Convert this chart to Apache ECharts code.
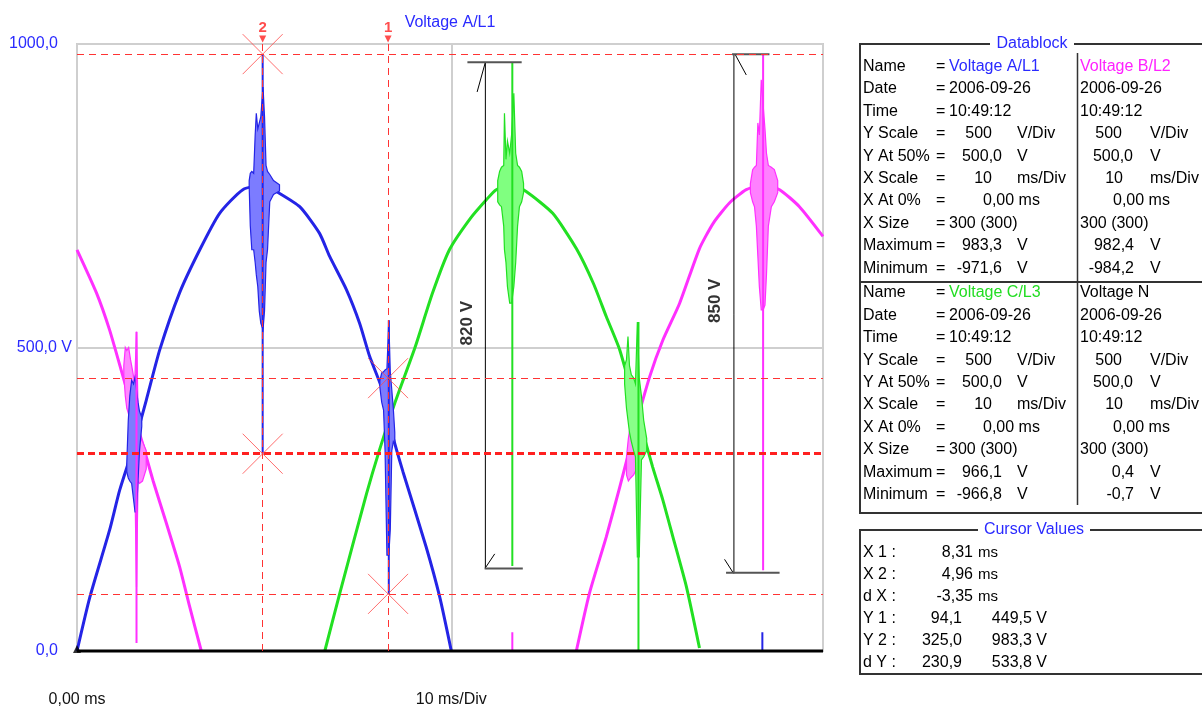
<!DOCTYPE html>
<html><head><meta charset="utf-8">
<script src="https://cdn.jsdelivr.net/npm/echarts@6/dist/echarts.min.js"></script>
<style>html,body{margin:0;padding:0;background:#fff}#c{width:1202px;height:711px}</style>
</head><body><div id="c"></div>
<script>
const FAM = '"Liberation Sans", Arial, sans-serif';
const X_MAX = 19.93;

// ---- waveform values: [time ms, volts] ----
const voltageA = [[0,0],[0.34,88],[0.87,199],[1.14,265],[1.5,335],[1.85,413],[2.21,496],[2.74,590],[3.28,661],[3.81,721],[4.43,760],[5.0,768],[5.33,757],[5.95,732],[6.48,688],[6.75,650],[7.2,595],[7.55,540],[7.82,485],[8.13,435],[8.44,353],[8.71,295],[9.33,171],[9.69,89],[10.0,0]];
const voltageC = [[6.62,0],[7.02,95],[7.73,258],[8.08,331],[8.5,410],[9.03,500],[9.5,590],[9.95,661],[10.5,712],[10.93,743],[11.2,760],[11.6,768],[12.0,757],[12.71,721],[13.34,663],[13.8,605],[14.14,551],[14.5,496],[15.0,386],[15.38,303],[15.65,249],[15.92,188],[16.28,106],[16.63,5]];
const voltageB1 = [[0,661],[0.52,590],[0.87,529],[1.23,452],[1.5,394],[1.76,340],[2.03,281],[2.39,210],[2.74,139],[3.01,73],[3.32,0]];
const voltageB2 = [[13.34,0],[13.69,95],[14.14,188],[14.5,270],[14.9,365],[15.3,452],[15.65,512],[16.1,573],[16.63,663],[17.0,705],[17.43,738],[17.88,760],[18.35,768],[18.77,760],[19.3,732],[19.93,683]];
const voltageN = [[0,0],[5,0],[10,0],[15,0],[19.93,0]];

// transient bursts: [time, upper, lower]
const burstA_peak = [[4.60,775,765],[4.63,787,700],[4.67,790,661],[4.72,787,661],[4.76,850,640],[4.79,886,620],[4.83,860,600],[4.87,870,560],[4.91,880,540],[4.97,929,529],[5.01,880,560],[5.05,800,640],[5.09,790,661],[5.15,785,740],[5.25,775,752],[5.41,768,758]];
const burstA_x1 = [[1.33,310,295],[1.37,380,285],[1.41,420,280],[1.46,446,276],[1.51,440,250],[1.55,451,229],[1.59,430,229],[1.63,410,280],[1.67,395,330],[1.73,385,370]];
const burstA_x2 = [[8.09,445,435],[8.14,458,410],[8.19,460,397],[8.23,463,330],[8.28,465,158],[8.33,545,158],[8.37,460,200],[8.41,430,330],[8.45,400,345],[8.49,360,340]];
const burstB_x1 = [[1.25,470,455],[1.29,500,420],[1.33,495,400],[1.38,500,390],[1.43,480,380],[1.49,460,340],[1.54,440,300],[1.59,526,105],[1.63,400,280],[1.67,352,276],[1.75,345,280],[1.85,330,300]];
const burstB_x3 = [[14.68,320,290],[14.73,350,280],[14.79,375,285],[14.87,370,290],[14.95,365,300],[15.02,370,330],[15.10,400,380]];
const burstB_peak = [[17.99,770,755],[18.05,793,740],[18.10,797,732],[18.15,800,700],[18.19,870,650],[18.23,850,600],[18.28,941,562],[18.33,900,562],[18.38,860,570],[18.42,820,620],[18.47,800,700],[18.55,797,732],[18.63,793,740],[18.72,775,755]];
const burstC_peak = [[11.24,775,740],[11.29,790,735],[11.34,797,732],[11.40,800,700],[11.42,886,661],[11.46,810,640],[11.50,840,600],[11.56,820,573],[11.61,850,573],[11.67,919,600],[11.72,820,640],[11.77,800,700],[11.82,797,732],[11.88,790,740],[11.93,770,755]];
const burstC_x3 = [[14.63,470,440],[14.68,480,400],[14.72,518,380],[14.76,470,360],[14.81,455,345],[14.87,450,330],[14.92,440,320],[14.97,542,155],[15.02,450,155],[15.08,420,315],[15.14,380,320],[15.22,350,330]];

// thin spikes: [[t, from], [t, to]]
const spikesA = [[[4.96,983],[4.96,325]],[[8.33,545],[8.33,94]],[[18.31,0],[18.31,31]]];
const spikesB = [[[1.59,526],[1.59,13]],[[18.33,982],[18.33,133]],[[11.63,0],[11.63,31]]];
const spikesC = [[[11.63,969],[11.63,140]],[[15.0,542],[15.0,0]]];

// cursors
const cursorX = [8.31, 4.96];
const cursorNames = ['1', '2'];
const cursorLevels = [94.1, 449.5, 325.0, 983.3];
const cursorPoints = [[8.31,449.5],[8.31,94.1],[4.96,983.3],[4.96,325.0]];

// measurement annotations
const measureLines = [[[10.91,970],[10.91,136]],[[17.55,982],[17.55,128]],[[10.69,921],[10.91,970]],[[10.91,137],[11.16,160]],[[17.59,982],[17.88,949]],[[17.30,151],[17.54,128]]];
const measureCaps = [[[10.43,970],[11.88,970]],[[10.89,136],[11.91,136]],[[17.50,983],[18.50,983]],[[17.34,129],[18.77,129]]];
const measureLabels = [[10.42,540,'820 V'],[17.05,577,'850 V']];

// panel texts
const blockLabels = ['Name','Date','Time','Y Scale','Y At 50%','X Scale','X At 0%','X Size','Maximum','Minimum'];
const chanA = ['Voltage A/L1','2006-09-26','10:49:12','500','500,0','10','0,00 ms','300 (300)','983,3','-971,6'];
const chanB = ['Voltage B/L2','2006-09-26','10:49:12','500','500,0','10','0,00 ms','300 (300)','982,4','-984,2'];
const chanC = ['Voltage C/L3','2006-09-26','10:49:12','500','500,0','10','0,00 ms','300 (300)','966,1','-966,8'];
const chanN = ['Voltage N','2006-09-26','10:49:12','500','500,0','10','0,00 ms','300 (300)','0,4','-0,7'];
const blockUnits = [null,null,null,'V/Div','V','ms/Div',null,null,'V','V'];
const cursorLabels = ['X 1 :','X 2 :','d X :','Y 1 :','Y 2 :','d Y :'];
const cursorMs = ['8,31','4,96','-3,35'];
const cursorYVals = [['94,1','449,5 V'],['325,0','983,3 V'],['230,9','533,8 V']];

const BLUE = '#2424e6', GREEN = '#22e022', MAG = '#ff30ff';
const TXT_BLUE = '#2a2aff', TXT_GREEN = '#22dd22', TXT_MAG = '#ff22ff';

const bursts = [
  {pts: burstB_x1, fill: '#ff88ff', stroke: MAG},
  {pts: burstB_x3, fill: '#ff88ff', stroke: MAG},
  {pts: burstB_peak, fill: '#ff80ff', stroke: MAG},
  {pts: burstC_x3, fill: '#88ff88', stroke: GREEN},
  {pts: burstC_peak, fill: '#80ff80', stroke: GREEN},
  {pts: burstA_x1, fill: '#7c7cff', stroke: BLUE},
  {pts: burstA_peak, fill: '#7c7cff', stroke: BLUE},
  {pts: burstA_x2, fill: '#7c7cff', stroke: BLUE}
];

function segs(list) {
  const out = [];
  list.forEach((s, i) => { if (i) out.push([s[0][0], '-']); s.forEach(p => out.push(p)); });
  return out;
}

function T(text, x, y, o) {
  return {type: 'text', x: x, y: y, z: 20, style: Object.assign({text: text, font: '16px ' + FAM, fill: '#000', textAlign: 'left', textVerticalAlign: 'middle'}, o || {})};
}

const graphics = [];
graphics.push(T('Voltage A/L1', 450, 23, {fill: TXT_BLUE, textAlign: 'center'}));
graphics.push({type: 'rect', z: 15, shape: {x: 860, y: 44, width: 370, height: 469}, style: {fill: 'none', stroke: '#333', lineWidth: 2}});
graphics.push({type: 'line', z: 15, shape: {x1: 860, y1: 282, x2: 1202, y2: 282}, style: {stroke: '#333', lineWidth: 2}});
graphics.push({type: 'line', z: 15, shape: {x1: 1077.5, y1: 53, x2: 1077.5, y2: 505}, style: {stroke: '#333', lineWidth: 1.5}});
graphics.push({type: 'rect', z: 16, shape: {x: 990, y: 35, width: 84, height: 18}, style: {fill: '#fff'}});
graphics.push(T('Datablock', 1032, 44, {fill: TXT_BLUE, textAlign: 'center'}));
graphics.push({type: 'rect', z: 15, shape: {x: 860, y: 530, width: 370, height: 144}, style: {fill: 'none', stroke: '#333', lineWidth: 2}});
graphics.push({type: 'rect', z: 16, shape: {x: 978, y: 521, width: 112, height: 18}, style: {fill: '#fff'}});
graphics.push(T('Cursor Values', 1034, 530, {fill: TXT_BLUE, textAlign: 'center'}));

function addBlock(y0, ch1, ch2, c1, c2) {
  const step = 22.4;
  const r1 = {3: 992, 4: 1002, 5: 992, 8: 1002, 9: 1002};
  const r2 = {3: 1122, 4: 1133, 5: 1123, 8: 1134, 9: 1134};
  blockLabels.forEach((lab, i) => {
    const y = y0 + i * step;
    graphics.push(T(lab, 863, y));
    graphics.push(T('=', 936, y));
    if (i === 0 || i === 1 || i === 2 || i === 7) {
      graphics.push(T(ch1[i], 949, y, i === 0 ? {fill: c1} : {}));
      graphics.push(T(ch2[i], 1080, y, i === 0 ? {fill: c2} : {}));
    } else if (i === 6) {
      graphics.push(T(ch1[i], 983, y));
      graphics.push(T(ch2[i], 1113, y));
    } else {
      graphics.push(T(ch1[i], r1[i], y, {textAlign: 'right'}));
      graphics.push(T(ch2[i], r2[i], y, {textAlign: 'right'}));
      graphics.push(T(blockUnits[i], 1017, y));
      graphics.push(T(blockUnits[i], 1150, y));
    }
  });
}
addBlock(66.5, chanA, chanB, TXT_BLUE, TXT_MAG);
addBlock(293, chanC, chanN, TXT_GREEN, '#000');

cursorLabels.forEach((lab, i) => {
  const y = 552.7 + i * 22;
  graphics.push(T(lab, 863, y));
  if (i < 3) {
    graphics.push(T(cursorMs[i], 973, y, {textAlign: 'right'}));
    graphics.push(T('ms', 978, y, {font: '15px ' + FAM}));
  } else {
    graphics.push(T(cursorYVals[i - 3][0], 962, y, {textAlign: 'right'}));
    graphics.push(T(cursorYVals[i - 3][1], 1047, y, {textAlign: 'right'}));
  }
});

const chart = echarts.init(document.getElementById('c'), null, {renderer: 'canvas'});
const redDash = {color: '#ff3333', type: [7, 5], width: 1};

chart.setOption({
  animation: false,
  backgroundColor: '#fff',
  textStyle: {fontFamily: FAM},
  grid: {left: 77, right: 379, top: 44, bottom: 60, show: true, borderColor: '#cbcbcb', borderWidth: 2, backgroundColor: 'transparent'},
  xAxis: {
    type: 'value', min: 0, max: X_MAX, interval: 10,
    axisLine: {show: false}, axisTick: {show: false},
    splitLine: {show: true, lineStyle: {color: '#cfcfcf', width: 2}},
    axisLabel: {
      margin: 41, fontSize: 16, color: '#111', fontFamily: FAM, showMaxLabel: false,
      formatter: v => v === 0 ? '0,00 ms' : (v === 10 ? '10 ms/Div' : '')
    }
  },
  yAxis: {
    type: 'value', min: 0, max: 1000, interval: 500,
    axisLine: {show: false}, axisTick: {show: false},
    splitLine: {show: true, lineStyle: {color: '#cfcfcf', width: 2}},
    axisLabel: {
      margin: 5, fontSize: 16, color: TXT_BLUE, fontFamily: FAM,
      formatter: v => v === 500 ? '500,0 V' : (v === 1000 ? '{p|1000,0}' : '{p|0,0}'),
      rich: {p: {padding: [0, 14, 0, 0], fontSize: 16, color: TXT_BLUE, fontFamily: FAM}}
    }
  },
  graphic: graphics,
  series: [
    {name: 'Voltage B/L2', type: 'line', data: voltageB1.concat([[3.4, '-']], voltageB2), showSymbol: false, smooth: 0.2, lineStyle: {color: MAG, width: 3}, z: 2},
    {name: 'Voltage C/L3', type: 'line', data: voltageC, showSymbol: false, smooth: 0.2, lineStyle: {color: GREEN, width: 3}, z: 2},
    {name: 'Voltage A/L1', type: 'line', data: voltageA, showSymbol: false, smooth: 0.2, lineStyle: {color: BLUE, width: 3}, z: 2},
    {
      name: 'bursts', type: 'custom', coordinateSystem: 'cartesian2d', z: 3, clip: true,
      data: bursts.map(b => [b.pts[0][0], b.pts[0][1]]),
      renderItem: function (params, api) {
        const b = bursts[params.dataIndex];
        const up = b.pts.map(p => api.coord([p[0], p[1]]));
        const lo = b.pts.slice().reverse().map(p => api.coord([p[0], p[2]]));
        return {type: 'polygon', shape: {points: up.concat(lo)}, style: {fill: b.fill, stroke: b.stroke, lineWidth: 1.2}};
      }
    },
    {name: 'spB', type: 'line', data: segs(spikesB), showSymbol: false, lineStyle: {color: MAG, width: 2}, z: 4},
    {name: 'spC', type: 'line', data: segs(spikesC), showSymbol: false, lineStyle: {color: GREEN, width: 2}, z: 4},
    {name: 'spA', type: 'line', data: segs(spikesA), showSymbol: false, lineStyle: {color: BLUE, width: 2}, z: 4},
    {name: 'Voltage N', type: 'line', data: voltageN, showSymbol: false, clip: false, lineStyle: {color: '#000', width: 3}, z: 5},
    {name: 'origin', type: 'scatter', data: [[0, 0]], symbol: 'triangle', symbolSize: 8, symbolOffset: [0, -2], clip: false, itemStyle: {color: '#000'}, z: 6},
    {name: 'measure', type: 'line', data: segs(measureLines), showSymbol: false, lineStyle: {color: '#000', width: 1}, z: 7},
    {name: 'caps', type: 'line', data: segs(measureCaps), showSymbol: false, lineStyle: {color: '#555', width: 2}, z: 7},
    {
      name: 'measureLabels', type: 'scatter', data: measureLabels.map(m => [m[0], m[1], m[2]]), symbolSize: 0, z: 8,
      label: {show: true, position: 'inside', rotate: 90, formatter: p => p.data[2], fontWeight: 'bold', fontSize: 17, color: '#000', fontFamily: FAM}
    },
    {
      name: 'cursors', type: 'scatter', data: cursorPoints, z: 9, clip: false,
      symbol: 'path://M0,0L10,10M10,0L0,10', symbolSize: 40,
      itemStyle: {color: 'rgba(0,0,0,0)', borderColor: '#ff4a4a', borderWidth: 1},
      markLine: {
        silent: true, symbol: 'none', label: {show: false}, lineStyle: redDash, z: 9,
        data: cursorX.map(x => ({xAxis: x})).concat(cursorLevels.map(v => v === 325.0 ? {yAxis: v, lineStyle: {color: '#ff2020', type: [7, 4], width: 3}} : {yAxis: v}))
      }
    },
    {
      name: 'cursorTags', type: 'scatter', data: cursorX.map((x, i) => [x, 1000, cursorNames[i]]), z: 9, clip: false,
      symbol: 'triangle', symbolRotate: 180, symbolSize: 7, symbolOffset: [0, -5], itemStyle: {color: '#ff2020'},
      label: {show: true, position: 'top', distance: 0, formatter: p => p.data[2], color: '#ff2020', fontSize: 15, fontWeight: 'bold', fontFamily: FAM}
    }
  ]
});
</script></body></html>
